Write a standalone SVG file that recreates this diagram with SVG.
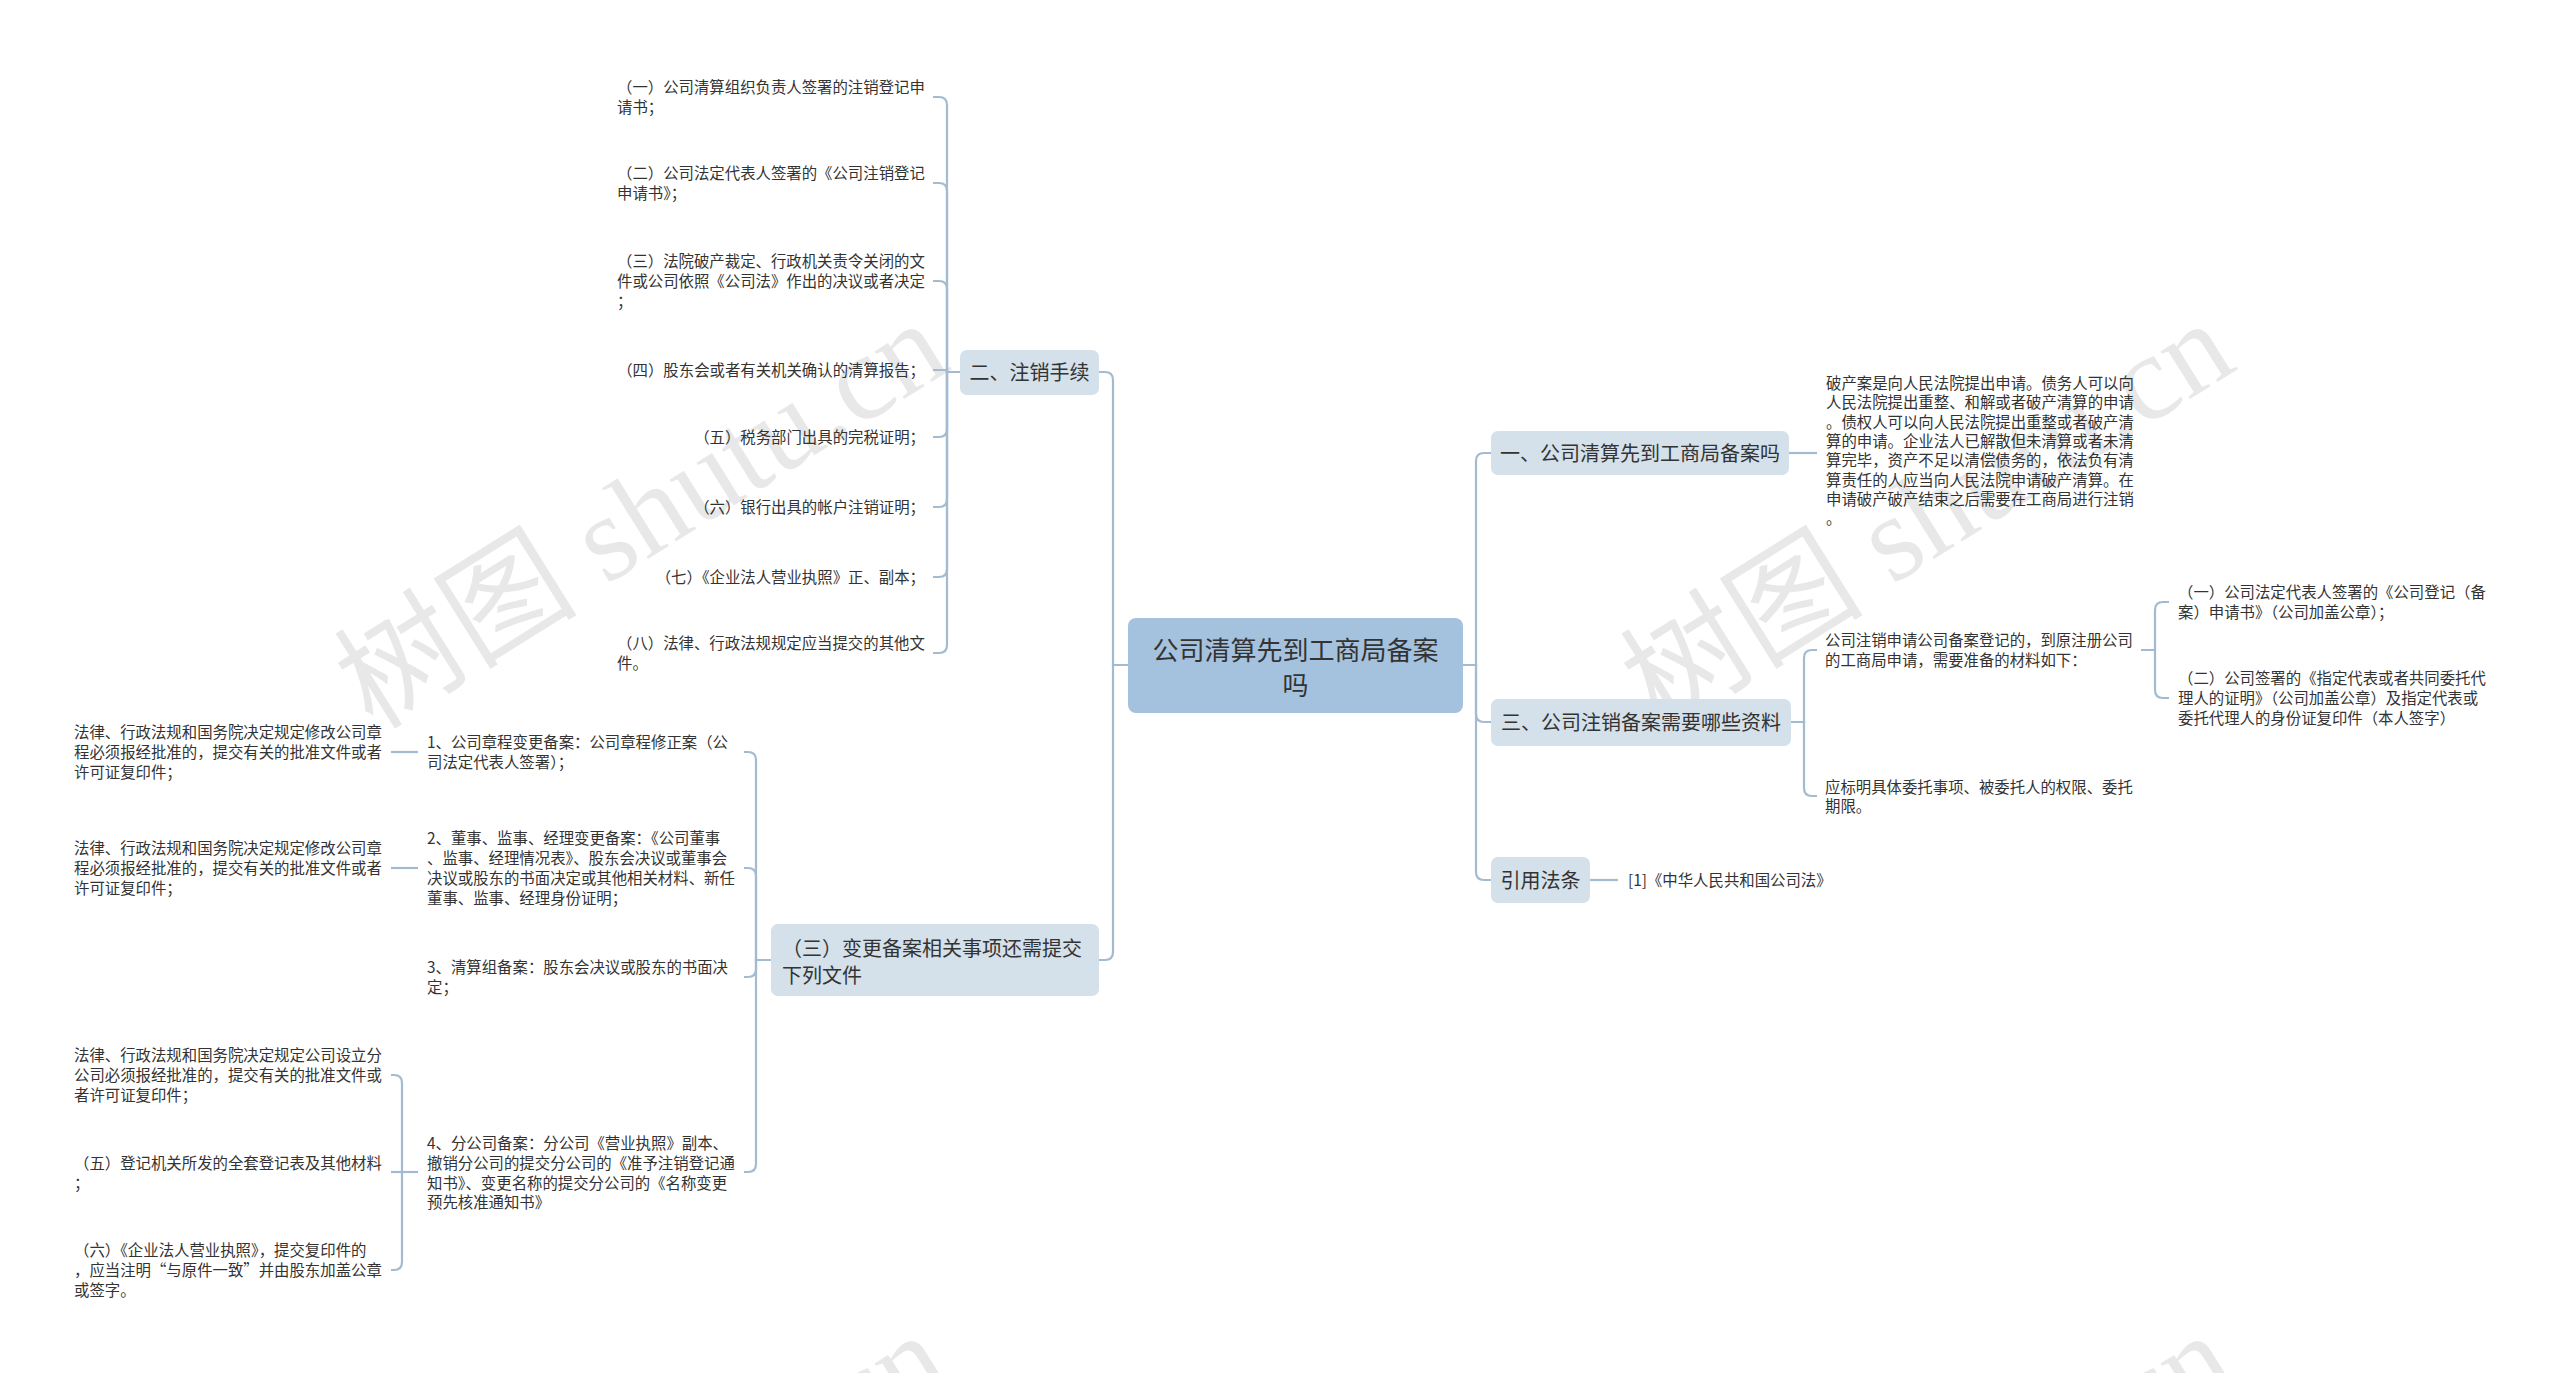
<svg xmlns="http://www.w3.org/2000/svg" width="2560" height="1373" viewBox="0 0 2560 1373">
<style>
.t{font-family:"Noto Sans CJK SC","Noto Sans CJK JP",sans-serif;font-size:15.4px;fill:#333}
.n{font-family:"Noto Sans CJK SC","Noto Sans CJK JP",sans-serif;font-size:20px;fill:#333}
.r{font-family:"Noto Sans CJK SC","Noto Sans CJK JP",sans-serif;font-size:26px;fill:#333}
.e{text-anchor:end}
.m{text-anchor:middle}
.c{fill:none;stroke:#a3bbd1;stroke-width:2.2}
.b{fill:#d4e0ea}
.wm{font-family:"Liberation Serif","Noto Sans CJK SC",serif;font-size:122px;fill:#000;fill-opacity:0.09;text-anchor:middle}
</style>
<rect width="2560" height="1373" fill="#fff"/>
<g id="watermarks">
<text class="wm" x="641" y="556" transform="rotate(-32 641 514)">树图 shutu.cn</text>
<text class="wm" x="1927" y="556" transform="rotate(-32 1927 514)">树图 shutu.cn</text>
<text class="wm" x="641" y="1568" transform="rotate(-32 641 1526)">树图 shutu.cn</text>
<text class="wm" x="1927" y="1568" transform="rotate(-32 1927 1526)">树图 shutu.cn</text>
</g>
<g id="connectors">
<path class="c" d="M1128,665 H1113 V380 Q1113,372 1105,372 H1099"/>
<path class="c" d="M1128,665 H1113 V952 Q1113,960 1105,960 H1099"/>
<path class="c" d="M1463,665 H1476 V461 Q1476,453 1484,453 H1491"/>
<path class="c" d="M1463,665 H1476 V714 Q1476,722 1484,722 H1491"/>
<path class="c" d="M1463,665 H1476 V872 Q1476,880 1484,880 H1491"/>
<path class="c" d="M960,372 H947 V105 Q947,97 939,97 H933"/>
<path class="c" d="M960,372 H947 V191 Q947,183 939,183 H933"/>
<path class="c" d="M960,372 H947 V289 Q947,281 939,281 H933"/>
<path class="c" d="M960,372 H947 V370 H933"/>
<path class="c" d="M960,372 H947 V429 Q947,437 939,437 H933"/>
<path class="c" d="M960,372 H947 V499 Q947,507 939,507 H933"/>
<path class="c" d="M960,372 H947 V569 Q947,577 939,577 H933"/>
<path class="c" d="M960,372 H947 V645 Q947,653 939,653 H933"/>
<path class="c" d="M1789,453 H1817"/>
<path class="c" d="M1791,722 H1804 V658 Q1804,650 1812,650 H1817"/>
<path class="c" d="M1791,722 H1804 V788 Q1804,796 1812,796 H1817"/>
<path class="c" d="M2141,650 H2155 V610 Q2155,602 2163,602 H2169"/>
<path class="c" d="M2141,650 H2155 V690 Q2155,698 2163,698 H2169"/>
<path class="c" d="M1590,880 H1618"/>
<path class="c" d="M771,960 H756 V760 Q756,752 748,752 H744"/>
<path class="c" d="M771,960 H756 V876 Q756,868 748,868 H744"/>
<path class="c" d="M771,960 H756 V969 Q756,977 748,977 H744"/>
<path class="c" d="M771,960 H756 V1164 Q756,1172 748,1172 H744"/>
<path class="c" d="M418,752 H391"/>
<path class="c" d="M418,868 H391"/>
<path class="c" d="M418,1172 H402 V1083 Q402,1075 394,1075 H391"/>
<path class="c" d="M418,1172 H391"/>
<path class="c" d="M418,1172 H402 V1262 Q402,1270 394,1270 H391"/>
</g>
<g id="root">
<rect x="1128" y="618" width="335" height="95" rx="8" fill="#a4c2de"/>
<text class="r m" x="1295.5" y="660">公司清算先到工商局备案</text>
<text class="r m" x="1295.5" y="695">吗</text>
</g>
<g id="n2">
<rect class="b" x="960" y="350" width="139" height="45" rx="7"/>
<text class="n m" x="1029.5" y="380">二、注销手续</text>
</g>
<g id="n2-1"><text class="t" x="617" y="93">（一）公司清算组织负责人签署的注销登记申</text><text class="t" x="617" y="113">请书；</text></g>
<g id="n2-2"><text class="t" x="617" y="179">（二）公司法定代表人签署的《公司注销登记</text><text class="t" x="617" y="199">申请书》；</text></g>
<g id="n2-3"><text class="t" x="617" y="267">（三）法院破产裁定、行政机关责令关闭的文</text><text class="t" x="617" y="287">件或公司依照《公司法》作出的决议或者决定</text><text class="t" x="617" y="307">；</text></g>
<g id="n2-4"><text class="t e" x="925" y="376">（四）股东会或者有关机关确认的清算报告；</text></g>
<g id="n2-5"><text class="t e" x="925" y="443">（五）税务部门出具的完税证明；</text></g>
<g id="n2-6"><text class="t e" x="925" y="513">（六）银行出具的帐户注销证明；</text></g>
<g id="n2-7"><text class="t e" x="925" y="583">（七）《企业法人营业执照》正、副本；</text></g>
<g id="n2-8"><text class="t" x="617" y="649">（八）法律、行政法规规定应当提交的其他文</text><text class="t" x="617" y="669">件。</text></g>
<g id="n3">
<rect class="b" x="771" y="924" width="328" height="72" rx="7"/>
<text class="n" x="782" y="955.6">（三）变更备案相关事项还需提交</text>
<text class="n" x="782" y="982.6">下列文件</text>
</g>
<g id="n3-1"><text class="t" x="427" y="748">1、公司章程变更备案：公司章程修正案（公</text><text class="t" x="427" y="768">司法定代表人签署）；</text></g>
<g id="n3-1-1"><text class="t" x="74" y="738">法律、行政法规和国务院决定规定修改公司章</text><text class="t" x="74" y="758">程必须报经批准的，提交有关的批准文件或者</text><text class="t" x="74" y="778">许可证复印件；</text></g>
<g id="n3-2"><text class="t" x="427" y="844">2、董事、监事、经理变更备案：《公司董事</text><text class="t" x="427" y="864">、监事、经理情况表》、股东会决议或董事会</text><text class="t" x="427" y="884">决议或股东的书面决定或其他相关材料、新任</text><text class="t" x="427" y="904">董事、监事、经理身份证明；</text></g>
<g id="n3-2-1"><text class="t" x="74" y="854">法律、行政法规和国务院决定规定修改公司章</text><text class="t" x="74" y="874">程必须报经批准的，提交有关的批准文件或者</text><text class="t" x="74" y="894">许可证复印件；</text></g>
<g id="n3-3"><text class="t" x="427" y="973">3、清算组备案：股东会决议或股东的书面决</text><text class="t" x="427" y="993">定；</text></g>
<g id="n3-4"><text class="t" x="427" y="1149">4、分公司备案：分公司《营业执照》副本、</text><text class="t" x="427" y="1169">撤销分公司的提交分公司的《准予注销登记通</text><text class="t" x="427" y="1189">知书》、变更名称的提交分公司的《名称变更</text><text class="t" x="427" y="1208">预先核准通知书》</text></g>
<g id="n3-4-1"><text class="t" x="74" y="1061">法律、行政法规和国务院决定规定公司设立分</text><text class="t" x="74" y="1081">公司必须报经批准的，提交有关的批准文件或</text><text class="t" x="74" y="1101">者许可证复印件；</text></g>
<g id="n3-4-2"><text class="t" x="74" y="1169">（五）登记机关所发的全套登记表及其他材料</text><text class="t" x="74" y="1189">；</text></g>
<g id="n3-4-3"><text class="t" x="74" y="1256">（六）《企业法人营业执照》，提交复印件的</text><text class="t" x="74" y="1276">，应当注明“与原件一致”并由股东加盖公章</text><text class="t" x="74" y="1296">或签字。</text></g>
<g id="n1">
<rect class="b" x="1491" y="431" width="298" height="44" rx="7"/>
<text class="n m" x="1640" y="460.6">一、公司清算先到工商局备案吗</text>
</g>
<g id="n1-1">
<text class="t" x="1826" y="389">破产案是向人民法院提出申请。债务人可以向</text>
<text class="t" x="1826" y="408.3">人民法院提出重整、和解或者破产清算的申请</text>
<text class="t" x="1826" y="427.6">。债权人可以向人民法院提出重整或者破产清</text>
<text class="t" x="1826" y="446.9">算的申请。企业法人已解散但未清算或者未清</text>
<text class="t" x="1826" y="466.2">算完毕，资产不足以清偿债务的，依法负有清</text>
<text class="t" x="1826" y="485.5">算责任的人应当向人民法院申请破产清算。在</text>
<text class="t" x="1826" y="504.8">申请破产破产结束之后需要在工商局进行注销</text>
<text class="t" x="1826" y="524.1">。</text>
</g>
<g id="n4">
<rect class="b" x="1491" y="699" width="300" height="47" rx="7"/>
<text class="n m" x="1641" y="729.6">三、公司注销备案需要哪些资料</text>
</g>
<g id="n4-1"><text class="t" x="1825" y="646">公司注销申请公司备案登记的，到原注册公司</text><text class="t" x="1825" y="666">的工商局申请，需要准备的材料如下：</text></g>
<g id="n4-1-1"><text class="t" x="2178" y="598">（一）公司法定代表人签署的《公司登记（备</text><text class="t" x="2178" y="618">案）申请书》（公司加盖公章）；</text></g>
<g id="n4-1-2"><text class="t" x="2178" y="684">（二）公司签署的《指定代表或者共同委托代</text><text class="t" x="2178" y="704">理人的证明》（公司加盖公章）及指定代表或</text><text class="t" x="2178" y="724">委托代理人的身份证复印件（本人签字）</text></g>
<g id="n4-2"><text class="t" x="1825" y="793">应标明具体委托事项、被委托人的权限、委托</text><text class="t" x="1825" y="812">期限。</text></g>
<g id="n5">
<rect class="b" x="1491" y="857" width="99" height="46" rx="7"/>
<text class="n m" x="1540.5" y="887.6">引用法条</text>
</g>
<g id="n5-1"><text class="t" x="1628" y="886">[1]《中华人民共和国公司法》</text></g>
</svg>
